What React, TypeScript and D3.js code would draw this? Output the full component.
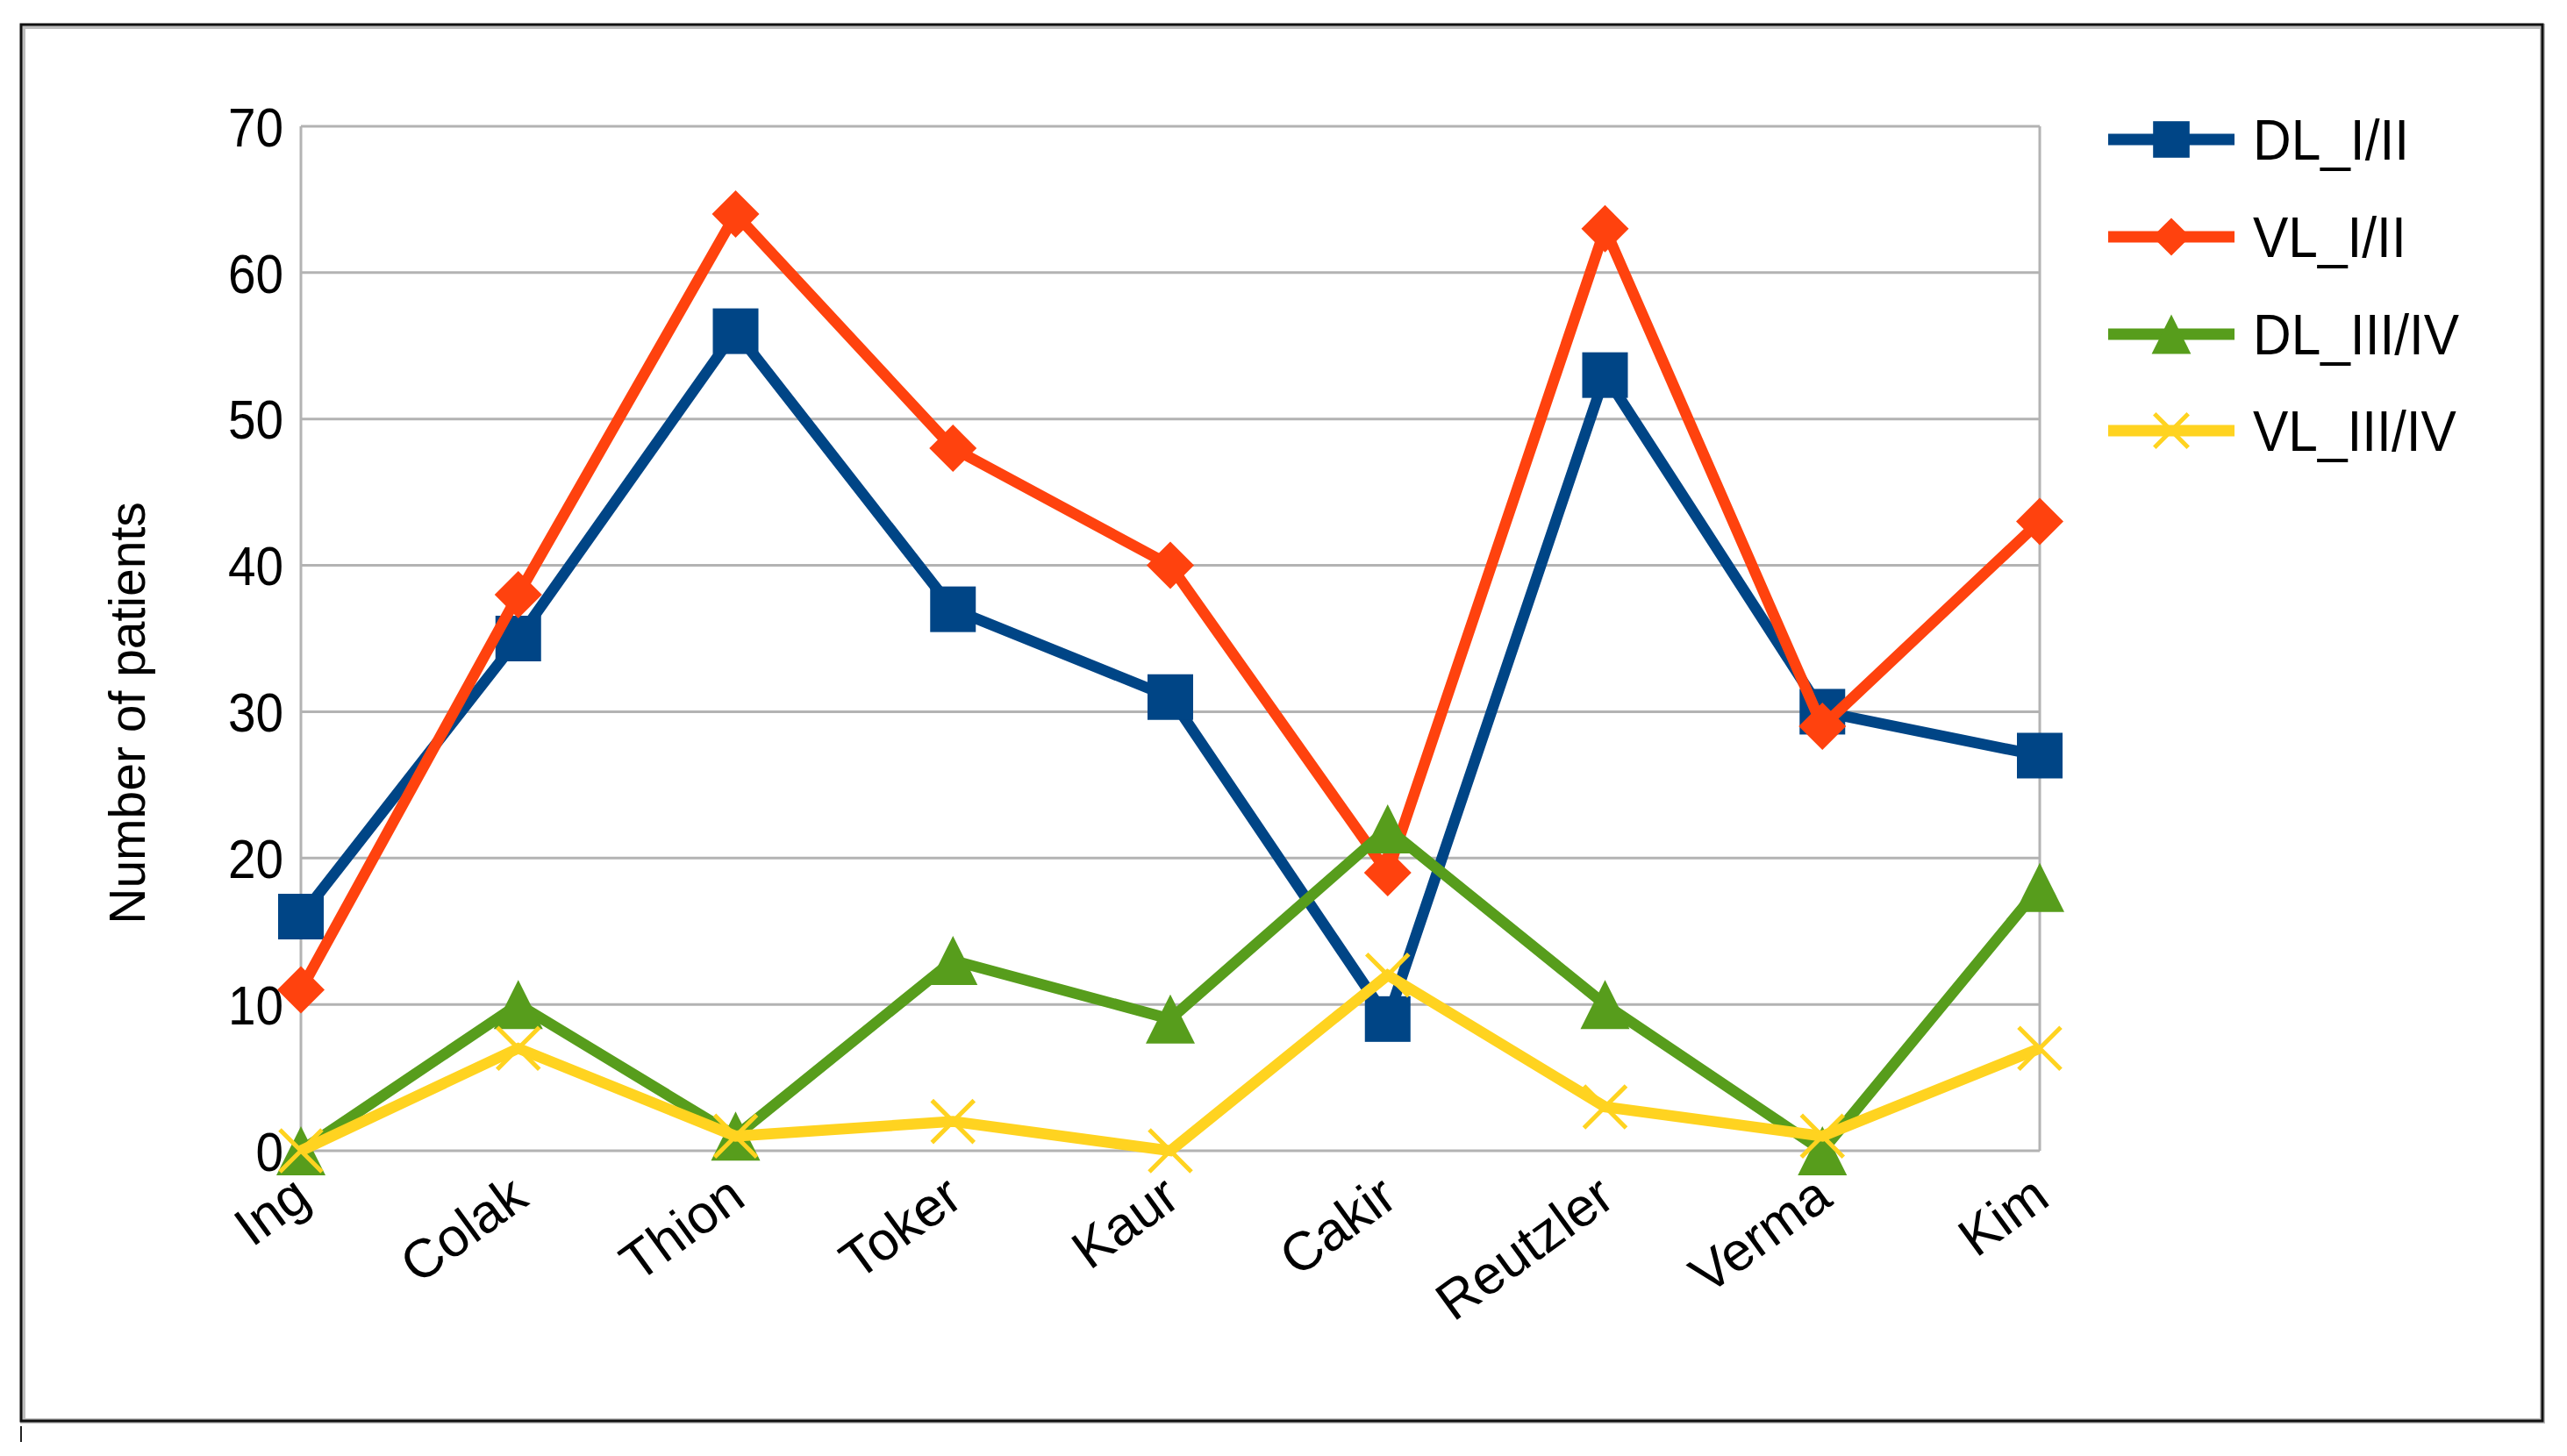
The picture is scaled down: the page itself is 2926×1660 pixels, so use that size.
import React from "react";
import * as d3 from "d3";

const categories = ["Ing", "Colak", "Thion", "Toker", "Kaur", "Cakir", "Reutzler", "Verma", "Kim"];
const dlI = [16, 35, 56, 37, 31, 9, 53, 30, 27];
const vlI = [11, 38, 64, 48, 40, 19, 63, 29, 43];
const dlIII = [0, 10, 1, 13, 9, 22, 10, 0, 18];
const vlIII = [0, 7, 1, 2, 0, 12, 3, 1, 7];
const yTicks = [0, 10, 20, 30, 40, 50, 60, 70];

const seriesNames = ["DL_I/II", "VL_I/II", "DL_III/IV", "VL_III/IV"];
const seriesColors = ["#004586", "#ff420e", "#579d1c", "#ffd320"];
const seriesMarkers = ["square", "diamond", "triangle", "x"];
const seriesValues = [dlI, vlI, dlIII, vlIII];

const W = 2926;
const H = 1660;
const FONT = "'Liberation Sans', Arial, sans-serif";

function Marker({ type, x, y, color, k = 1 }: { type: string; x: number; y: number; color: string; k?: number }) {
  if (type === "square") {
    const s = 52 * k;
    return <rect x={x - s / 2} y={y - s / 2} width={s} height={s} fill={color} />;
  }
  if (type === "diamond") {
    const r = 27 * k;
    return <path d={`M${x},${y - r}L${x + r},${y}L${x},${y + r}L${x - r},${y}Z`} fill={color} />;
  }
  if (type === "triangle") {
    const r = 28 * k;
    return <path d={`M${x},${y - r}L${x + r},${y + r}L${x - r},${y + r}Z`} fill={color} />;
  }
  const r = 24 * k;
  return (
    <path
      d={`M${x - r},${y - r}L${x + r},${y + r}M${x + r},${y - r}L${x - r},${y + r}`}
      stroke={color}
      strokeWidth={5}
      fill="none"
    />
  );
}

export default function App() {
  const left = 343;
  const right = 2325;
  const top = 144;
  const bottom = 1312;

  const x = d3.scalePoint<string>().domain(categories).range([left, right]);
  const y = d3.scaleLinear().domain([0, 70]).range([bottom, top]);
  const line = d3
    .line<number>()
    .x((_, i) => x(categories[i]) as number)
    .y((d) => y(d));

  const legendX1 = 2403;
  const legendX2 = 2547;
  const legendYs = [159, 270, 381, 491];

  return (
    <svg
      width={W}
      height={H}
      viewBox={`0 0 ${W} ${H}`}
      style={{ position: "absolute", left: 0, top: 0, background: "#fff" }}
      fontFamily={FONT}
    >
      <rect x={0} y={0} width={W} height={H} fill="#fff" />
      {/* outer frame */}
      <rect x={26} y={30} width={2872} height={1590} fill="none" stroke="#bdbdbd" strokeWidth={6} />
      <rect x={24} y={28} width={2874} height={1592} fill="none" stroke="#111" strokeWidth={3} />
      <line x1={24} x2={24} y1={1626} y2={1644} stroke="#222" strokeWidth={2} />

      {/* grid */}
      {yTicks.map((t) => (
        <line key={t} x1={left} x2={right} y1={y(t)} y2={y(t)} stroke="#b3b3b3" strokeWidth={3} />
      ))}
      <line x1={left} x2={left} y1={top} y2={bottom} stroke="#b3b3b3" strokeWidth={3} />
      <line x1={right} x2={right} y1={top} y2={bottom} stroke="#b3b3b3" strokeWidth={3} />

      {/* y tick labels */}
      {yTicks.map((t) => (
        <text
          key={t}
          transform={`translate(323,${y(t)}) scale(0.9,1)`}
          dy="0.36em"
          textAnchor="end"
          fontSize={63}
          fill="#000"
        >
          {t}
        </text>
      ))}
      <text
        transform={`translate(165,813) rotate(-90)`}
        textAnchor="middle"
        fontSize={57}
        fill="#000"
      >
        Number of patients
      </text>

      {/* x labels */}
      {categories.map((c) => (
        <text
          key={c}
          transform={`translate(${(x(c) as number) + 14},${bottom + 60}) rotate(-36)`}
          textAnchor="end"
          fontSize={62}
          fill="#000"
        >
          {c}
        </text>
      ))}

      {/* series */}
      {seriesValues.map((vals, si) => (
        <g key={seriesNames[si]}>
          <path d={line(vals) as string} fill="none" stroke={seriesColors[si]} strokeWidth={12.5} strokeLinejoin="miter" />
          {vals.map((v, i) => (
            <Marker key={i} type={seriesMarkers[si]} x={x(categories[i]) as number} y={y(v)} color={seriesColors[si]} />
          ))}
        </g>
      ))}

      {/* legend */}
      {seriesNames.map((n, si) => (
        <g key={n}>
          <line x1={legendX1} x2={legendX2} y1={legendYs[si]} y2={legendYs[si]} stroke={seriesColors[si]} strokeWidth={13} />
          <Marker type={seriesMarkers[si]} x={(legendX1 + legendX2) / 2} y={legendYs[si]} color={seriesColors[si]} k={0.8} />
          <text
            transform={`translate(2568,${legendYs[si]}) scale(0.93,1)`}
            dy="0.36em"
            fontSize={65}
            fill="#000"
          >
            {n}
          </text>
        </g>
      ))}
    </svg>
  );
}
